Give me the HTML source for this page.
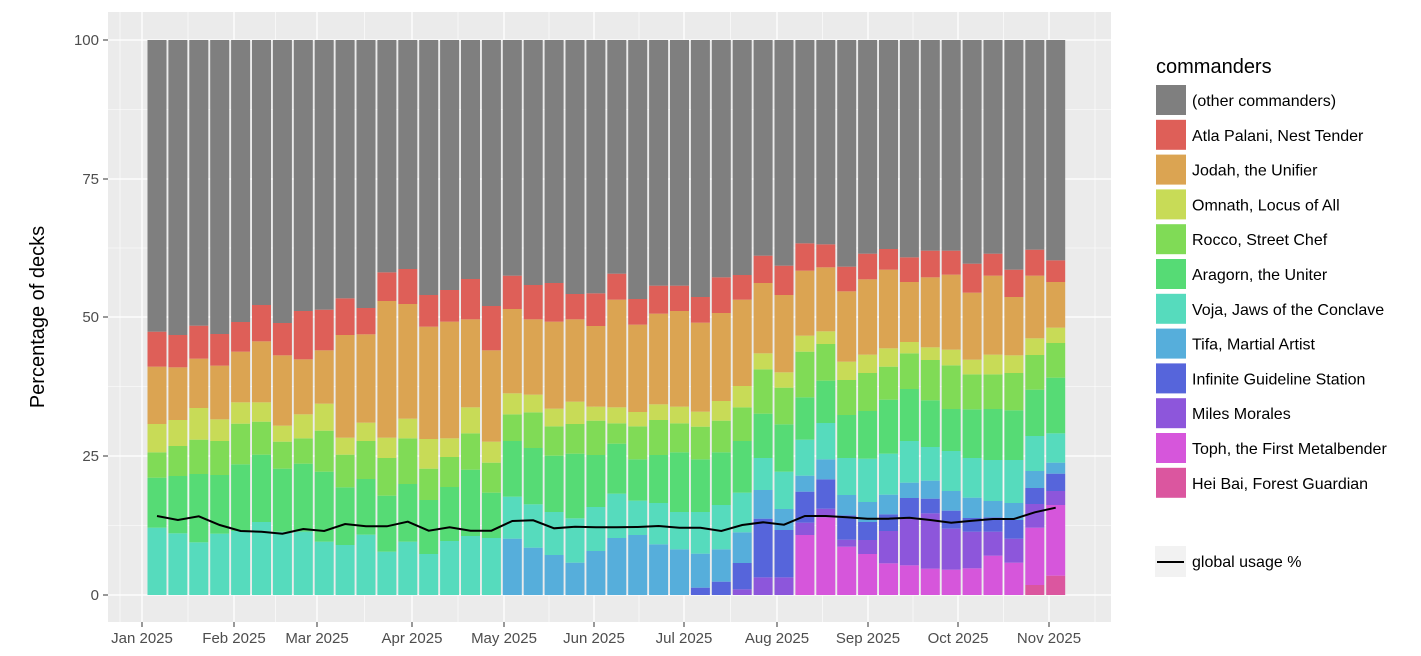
<!DOCTYPE html>
<html><head><meta charset="utf-8"><style>
html,body{margin:0;padding:0;background:#fff;width:1421px;height:656px;overflow:hidden}
text{font-family:"Liberation Sans",Arial,sans-serif}
</style></head><body>
<svg id="s" width="1421" height="656" xmlns="http://www.w3.org/2000/svg">
<rect x="108" y="12" width="1003" height="610" fill="#EBEBEB"/>
<g id="grid"></g>
<g id="bars"></g>
<polyline id="ln" fill="none" stroke="#000" stroke-width="2"/>
<g font-size="15" fill="#4D4D4D" text-anchor="end">
<text x="99" y="45">100</text><text x="99" y="184">75</text><text x="99" y="322">50</text><text x="99" y="461">25</text><text x="99" y="600">0</text>
</g>
<g stroke="#333" stroke-width="1">
<line x1="103" x2="108" y1="40" y2="40"/><line x1="103" x2="108" y1="179" y2="179"/><line x1="103" x2="108" y1="317" y2="317"/><line x1="103" x2="108" y1="456" y2="456"/><line x1="103" x2="108" y1="595" y2="595"/>
</g>
<g id="xt" font-size="15" fill="#4D4D4D" text-anchor="middle"></g>
<text transform="translate(44,317) rotate(-90)" font-size="20" text-anchor="middle" fill="#000">Percentage of decks</text>
<text x="1156" y="73" font-size="20" fill="#000">commanders</text>
<g id="leg" font-size="16" fill="#000"></g>
<rect x="1155" y="546" width="31" height="31" fill="#F2F2F2"/>
<line x1="1157" x2="1184" y1="562" y2="562" stroke="#000" stroke-width="2"/>
<text x="1192" y="567" font-size="16">global usage %</text>
</svg>
<script>
const NS="http://www.w3.org/2000/svg";
function el(t,a,p,txt){const e=document.createElementNS(NS,t);for(const k in a)e.setAttribute(k,a[k]);if(txt)e.textContent=txt;document.getElementById(p).appendChild(e);return e;}
const C={hei:'#DB569F',toph:'#D656DB',miles:'#8D56DB',inf:'#5665DB',tifa:'#56AEDB',teal:'#56DBBD',green:'#56DB75',lg:'#80DB56',yl:'#C8DB57',or:'#DBA452',red:'#DE5F58',gr:'#7F7F7F'};
// grid
[109.5,248,386.5,525.5].forEach(y=>el('line',{x1:108,x2:1111,y1:y,y2:y,stroke:'#fff','stroke-width':0.6},'grid'));
[40,179,317,456,595].forEach(y=>el('line',{x1:108,x2:1111,y1:y,y2:y,stroke:'#fff','stroke-width':1.3},'grid'));
const M=[[142,'Jan 2025'],[234,'Feb 2025'],[317,'Mar 2025'],[412,'Apr 2025'],[504,'May 2025'],[594,'Jun 2025'],[684,'Jul 2025'],[777,'Aug 2025'],[868,'Sep 2025'],[958,'Oct 2025'],[1049,'Nov 2025']];
M.forEach((m,i)=>{el('line',{x1:m[0],x2:m[0],y1:12,y2:622,stroke:'#fff','stroke-width':1.3},'grid');
 el('line',{x1:m[0],x2:m[0],y1:622,y2:627,stroke:'#333'},'grid');
 el('text',{x:m[0],y:643},'xt',m[1]);
 const nx=i<M.length-1?M[i+1][0]:1141;const mx=(m[0]+nx)/2; if(mx<1111) el('line',{x1:mx,x2:mx,y1:12,y2:622,stroke:'#fff','stroke-width':0.6},'grid');});
el('line',{x1:120,x2:120,y1:12,y2:622,stroke:'#fff','stroke-width':0.6},'grid');
const A=['teal','green','lg','yl','or','red'];
const D=[
[A,[893,743,667,582,410,305]],[A,[910,738,648,570,412,315]],[A,[937,732,629,534,386,287]],[A,[911,735,633,568,407,312]],
[A,[903,703,581,517,365,276]],[A,[876,674,575,517,334,225]],[A,[905,716,635,587,376,279]],[A,[905,701,625,553,388,243]],
[A,[935,725,602,521,361,239]],[A,[945,772,674,623,315,205]],[A,[914,747,633,578,313,234]],[A,[965,797,684,623,213,127]],
[A,[935,762,625,566,222,117]],[A,[972,810,716,627,290,195]],[A,[933,771,681,625,275,180]],
[A,[918,719,610,532,268,147]],[A,[924,788,698,635,361,228]],
[['tifa',...A],[926,800,633,553,490,237,137]],[['tifa',...A],[953,823,654,547,494,268,165]],
[['tifa',...A],[975,846,677,589,536,275,159]],[['tifa',...A],[998,865,671,582,515,268,192]],
[['tifa',...A],[963,831,675,572,530,288,190]],[['tifa',...A],[924,791,641,580,532,209,131]],
[['tifa',...A],[915,812,688,589,546,284,207]],[['tifa',...A],[943,819,675,570,523,251,167]],
[['tifa',...A],[958,846,667,580,530,243,167]],
[['inf','tifa',...A],[1073,971,846,688,590,545,278,201]],[['inf','tifa',...A],[1055,958,825,667,572,513,249,142]],
[['miles','inf','tifa',...A],[1078,999,907,788,633,532,468,209,135]],
[['miles','inf','tifa',...A],[1042,866,780,684,551,418,370,159,77]],
];
// zoom3-based bars (offset x 760) converted the same way (y=230+z/3)
const B=['toph','miles','inf','tifa',...A];
const D3=[
[['miles','inf','tifa',...A],[1042,900,837,725,583,473,427,195,107]],
[B,[915,878,785,737,629,502,365,317,122,40]],[B,[862,836,748,688,579,452,342,304,112,43]],
[B,[950,929,856,795,684,555,450,395,184,110]],[B,[972,930,876,816,686,543,429,374,148,71]],
[B,[1000,903,853,794,671,509,410,355,119,57]],[B,[1006,862,804,758,633,477,370,336,156,82]],
[B,[1016,850,806,752,651,511,390,352,142,62]],[B,[1019,896,842,783,663,537,406,359,134,62]],
[B,[1015,905,864,803,684,538,433,389,188,101]],[B,[977,905,862,813,690,537,433,374,137,71]],
[B,[998,926,870,819,690,541,429,376,201,119]],
[['hei',...B],[1065,893,822,774,723,618,479,375,325,137,59]],[['hei',...B],[1037,825,783,731,698,610,443,339,293,156,91]],
];
const all=D.concat(D3);
const L=[858,870,859,885,903,905,911,897,903,882,889,889,875,902,892,902,902,873,871,895,890,892,892,891,888,893,893,903,885,877,884,858,858,862,866,866,863,870,878,872,867,867,847,833];
let pts=[];
all.forEach((b,i)=>{const cx=157+i*20.9;const x=cx-9.5;let bot=595;
 b[0].forEach((k,j)=>{const top=230+b[1][j]/3;el('rect',{x:x,y:top,width:19,height:Math.max(0,bot-top),fill:C[k]},'bars');bot=top;});
 el('rect',{x:x,y:40,width:19,height:Math.max(0,bot-40),fill:C.gr},'bars');
 pts.push(cx.toFixed(1)+','+(230+L[i]/3).toFixed(1));});
document.getElementById('ln').setAttribute('points',pts.join(' '));
const LG=[['gr','(other commanders)'],['red','Atla Palani, Nest Tender'],['or','Jodah, the Unifier'],['yl','Omnath, Locus of All'],['lg','Rocco, Street Chef'],['green','Aragorn, the Uniter'],['teal','Voja, Jaws of the Conclave'],['tifa','Tifa, Martial Artist'],['inf','Infinite Guideline Station'],['miles','Miles Morales'],['toph','Toph, the First Metalbender'],['hei','Hei Bai, Forest Guardian']];
LG.forEach((g,i)=>{const y=85+i*34.8;el('rect',{x:1156,y:y,width:30,height:30,fill:C[g[0]]},'leg');el('text',{x:1192,y:y+21},'leg',g[1]);});
</script>
</body></html>
